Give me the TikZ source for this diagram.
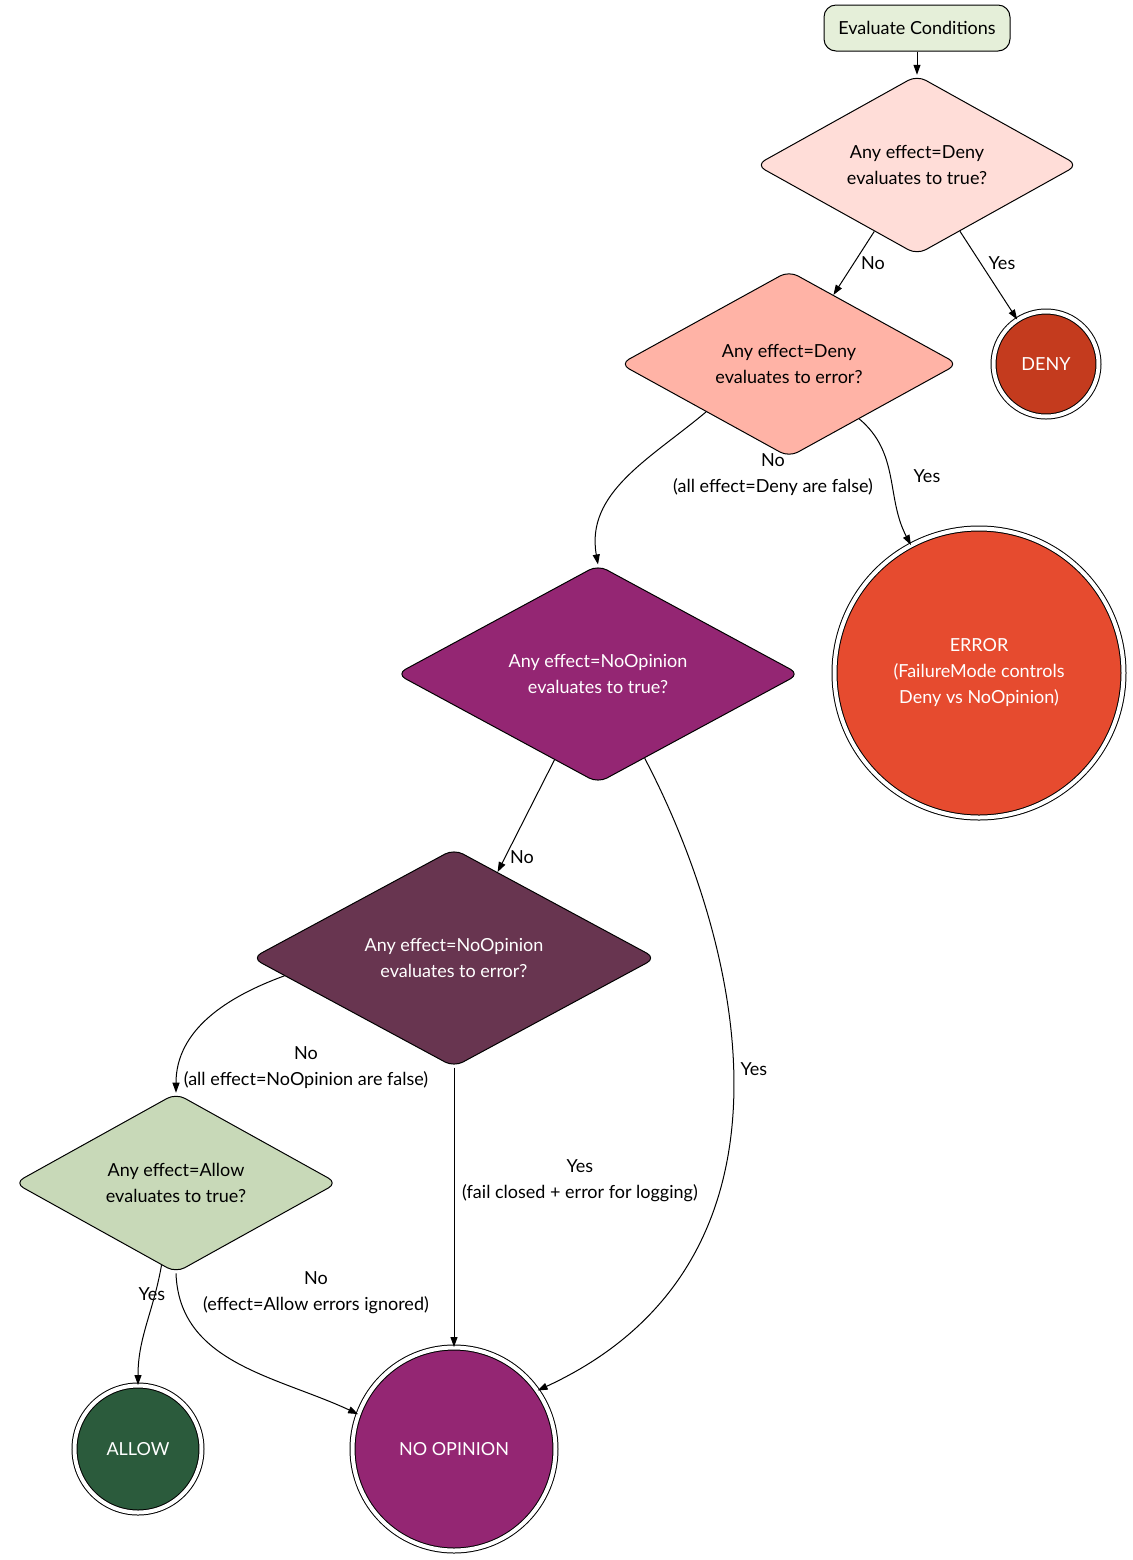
\documentclass[tikz,border=0pt]{standalone}
\usepackage{fontspec}
\setmainfont{Lato}
\usetikzlibrary{shapes.geometric,arrows.meta}
\definecolor{cstart}{HTML}{E5EFD9}
\definecolor{cdone}{HTML}{FFDDD8}
\definecolor{cdtwo}{HTML}{FFB3A6}
\definecolor{cdthree}{HTML}{942673}
\definecolor{cdfour}{HTML}{683550}
\definecolor{cdfive}{HTML}{C8D9B8}
\definecolor{cdeny}{HTML}{C43B1E}
\definecolor{cerr}{HTML}{E64B2F}
\definecolor{callow}{HTML}{2B5B3C}
\tikzset{
  txt/.style={font=\fontsize{9}{13}\selectfont, align=center},
  dia/.style={txt, diamond, draw, line width=0.5pt, rounded corners=5pt, inner sep=0pt, minimum height=60pt},
  term/.style={txt, circle, draw, line width=0.5pt, double, double distance=2pt, inner sep=0pt, text=white},
  edge/.style={line width=0.5pt, -{Triangle[length=5pt,width=3.5pt]}},
  lbl/.style={txt}
}
\begin{document}
\begin{tikzpicture}[x=0.5pt,y=0.5pt]
\useasboundingbox (0,0) rectangle (1132,-1560);
\node[txt, draw, rounded corners=6pt, fill=cstart, minimum width=93pt, minimum height=23pt, line width=0.5pt] (start) at (917,-28) {Evaluate Conditions};
\node[dia, fill=cdone, minimum width=161pt] (d1) at (917,-165) {Any effect=Deny\\evaluates to true?};
\node[dia, fill=cdtwo, minimum width=169pt] (d2) at (789,-364) {Any effect=Deny\\evaluates to error?};
\node[dia, fill=cdthree, text=white, minimum width=201.5pt] (d3) at (598,-674) {Any effect=NoOpinion\\evaluates to true?};
\node[dia, fill=cdfour, text=white, minimum width=202pt] (d4) at (454,-958) {Any effect=NoOpinion\\evaluates to error?};
\node[dia, fill=cdfive, minimum width=161.5pt] (d5) at (176,-1183) {Any effect=Allow\\evaluates to true?};
\node[term, fill=cdeny, minimum size=52.5pt] (deny) at (1046,-364) {DENY};
\node[term, fill=cerr, minimum size=144.5pt] (err) at (979,-673) {ERROR\\(FailureMode controls\\Deny vs NoOpinion)};
\node[term, fill=callow, minimum size=63.5pt] (allow) at (138,-1449) {ALLOW};
\node[term, fill=cdthree, minimum size=101.5pt] (noop) at (454,-1449) {NO OPINION};

\draw[edge] (start) -- (d1);
\draw[edge] (d1) -- (d2);
\draw[edge] (d1) -- (deny);
\draw[edge] (d2.-38) to[out=-40,in=118] (err);
\draw[edge] (d2.-150) to[out=-140,in=100] (d3.north);
\draw[edge] (d3) -- (d4);
\draw[edge] (d3.-61) .. controls (740,-940) and (820,-1260) .. (noop.35);
\draw[edge] (d4.186) to[out=-160,in=90] (d5.north);
\draw[edge] (d4) -- (noop);
\draw[edge] (d5.-100) to[out=-100,in=90] (allow);
\draw[edge] (d5.-90) to[out=-88,in=155] (noop.160);

\node[lbl] (l1) at (873,-263) {No};
\node[lbl] (l2) at (1002,-263) {Yes};
\node[lbl] (l3) at (773,-475) {No\\(all effect=Deny are false)};
\node[lbl] (l4) at (927,-476) {Yes};
\node[lbl] (l5) at (522,-857) {No};
\node[lbl] (l6) at (754,-1069) {Yes};
\node[lbl] (l7) at (306,-1068) {No\\(all effect=NoOpinion are false)};
\node[lbl] (l8) at (580,-1181) {Yes\\(fail closed + error for logging)};
\node[lbl] (l9) at (152,-1294) {Yes};
\node[lbl] (l10) at (316,-1293) {No\\(effect=Allow errors ignored)};
\end{tikzpicture}
\end{document}
